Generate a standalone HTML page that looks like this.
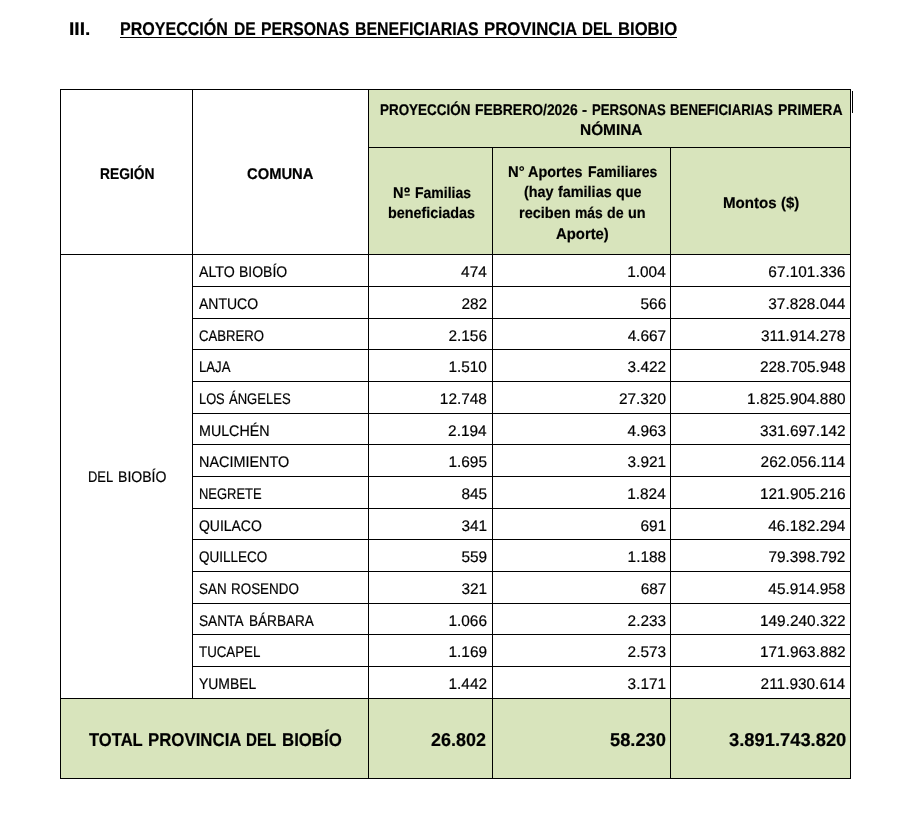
<!DOCTYPE html>
<html><head><meta charset="utf-8"><style>
html,body{margin:0;padding:0;background:#fff;width:911px;height:822px;overflow:hidden}
body{position:relative;font-family:"Liberation Sans",sans-serif;color:#000}
.t{position:absolute;white-space:nowrap;line-height:1;text-rendering:geometricPrecision}
.r{-webkit-text-stroke:0.2px #000}
.b{-webkit-text-stroke:0.2px #000}
#tx{position:absolute;left:0;top:0;width:911px;height:822px;filter:grayscale(1)}
.l{position:absolute;background:#000}
.g{position:absolute;background:#D8E4BC}

</style></head><body>
<div class="g" style="left:369px;top:90px;width:481px;height:164px"></div>
<div class="g" style="left:61px;top:699px;width:789px;height:79px"></div>
<div class="l" style="left:60px;top:89px;width:791px;height:1px"></div>
<div class="l" style="left:368px;top:147px;width:483px;height:1px"></div>
<div class="l" style="left:60px;top:254px;width:791px;height:1px"></div>
<div class="l" style="left:192px;top:286px;width:659px;height:1px"></div>
<div class="l" style="left:192px;top:318px;width:659px;height:1px"></div>
<div class="l" style="left:192px;top:349px;width:659px;height:1px"></div>
<div class="l" style="left:192px;top:381px;width:659px;height:1px"></div>
<div class="l" style="left:192px;top:413px;width:659px;height:1px"></div>
<div class="l" style="left:192px;top:444px;width:659px;height:1px"></div>
<div class="l" style="left:192px;top:476px;width:659px;height:1px"></div>
<div class="l" style="left:192px;top:508px;width:659px;height:1px"></div>
<div class="l" style="left:192px;top:539px;width:659px;height:1px"></div>
<div class="l" style="left:192px;top:571px;width:659px;height:1px"></div>
<div class="l" style="left:192px;top:603px;width:659px;height:1px"></div>
<div class="l" style="left:192px;top:634px;width:659px;height:1px"></div>
<div class="l" style="left:192px;top:666px;width:659px;height:1px"></div>
<div class="l" style="left:60px;top:698px;width:791px;height:1px"></div>
<div class="l" style="left:60px;top:778px;width:791px;height:1px"></div>
<div class="l" style="left:60px;top:89px;width:1px;height:690px"></div>
<div class="l" style="left:850px;top:89px;width:1px;height:690px"></div>
<div class="l" style="left:192px;top:89px;width:1px;height:610px"></div>
<div class="l" style="left:368px;top:89px;width:1px;height:690px"></div>
<div class="l" style="left:492px;top:147px;width:1px;height:632px"></div>
<div class="l" style="left:670px;top:147px;width:1px;height:632px"></div>
<div class="l" style="left:852px;top:91px;width:1px;height:22px"></div>
<svg class="sv" style="position:absolute;left:0;top:0" width="911" height="822"><ellipse cx="407.05" cy="189.95" rx="1.95" ry="1.85" fill="none" stroke="#000" stroke-width="1.6"/><rect x="404.7" y="194.3" width="5.1" height="1.3" fill="#000"/></svg>
<div class="l" style="left:120px;top:37px;width:557px;height:1px"></div>
<div id="tx">
<div class="t b" id="t1" style="left:68.75px;top:19.80px;font-size:18.5px;font-weight:bold;transform:scaleX(1.0395);transform-origin:0 0">III.</div>
<div class="t b" id="t2_0" style="left:120.16px;top:19.80px;font-size:18.5px;font-weight:bold;transform:scaleX(0.8674);transform-origin:0 0">PROYECCIÓN</div>
<div class="t b" id="t2_1" style="left:233.88px;top:19.80px;font-size:18.5px;font-weight:bold;transform:scaleX(0.8449);transform-origin:0 0">DE</div>
<div class="t b" id="t2_2" style="left:260.68px;top:19.80px;font-size:18.5px;font-weight:bold;transform:scaleX(0.8502);transform-origin:0 0">PERSONAS</div>
<div class="t b" id="t2_3" style="left:354.67px;top:19.80px;font-size:18.5px;font-weight:bold;transform:scaleX(0.8593);transform-origin:0 0">BENEFICIARIAS</div>
<div class="t b" id="t2_4" style="left:483.81px;top:19.80px;font-size:18.5px;font-weight:bold;transform:scaleX(0.9063);transform-origin:0 0">PROVINCIA</div>
<div class="t b" id="t2_5" style="left:582.11px;top:19.80px;font-size:18.5px;font-weight:bold;transform:scaleX(0.8198);transform-origin:0 0">DEL</div>
<div class="t b" id="t2_6" style="left:617.62px;top:19.80px;font-size:18.5px;font-weight:bold;transform:scaleX(0.8996);transform-origin:0 0">BIOBIO</div>
<div class="t b" id="h1" style="left:100.18px;top:166.70px;font-size:15.5px;font-weight:bold;transform:scaleX(0.8905);transform-origin:0 0">REGIÓN</div>
<div class="t b" id="h2" style="left:247.37px;top:166.90px;font-size:15.5px;font-weight:bold;transform:scaleX(0.9518);transform-origin:0 0">COMUNA</div>
<div class="t b" id="h3_0" style="left:380.01px;top:102.80px;font-size:15.5px;font-weight:bold;transform:scaleX(0.8671);transform-origin:0 0">PROYECCIÓN</div>
<div class="t b" id="h3_1" style="left:475.47px;top:102.80px;font-size:15.5px;font-weight:bold;transform:scaleX(0.8975);transform-origin:0 0">FEBRERO/2026</div>
<div class="t b" id="h3_2" style="left:582.44px;top:102.80px;font-size:15.5px;font-weight:bold;transform:scaleX(0.9808);transform-origin:0 0">-</div>
<div class="t b" id="h3_3" style="left:591.82px;top:102.80px;font-size:15.5px;font-weight:bold;transform:scaleX(0.8491);transform-origin:0 0">PERSONAS</div>
<div class="t b" id="h3_4" style="left:670.32px;top:102.80px;font-size:15.5px;font-weight:bold;transform:scaleX(0.8537);transform-origin:0 0">BENEFICIARIAS</div>
<div class="t b" id="h3_5" style="left:778.07px;top:102.80px;font-size:15.5px;font-weight:bold;transform:scaleX(0.9034);transform-origin:0 0">PRIMERA</div>
<div class="t b" id="h4" style="left:579.67px;top:122.80px;font-size:15.5px;font-weight:bold;transform:scaleX(0.9941);transform-origin:0 0">NÓMINA</div>
<div class="t b" id="h5_0" style="left:392.93px;top:185.60px;font-size:15.5px;font-weight:bold;transform:scaleX(0.9361);transform-origin:0 0">N</div>
<div class="t b" id="h5_1" style="left:415.17px;top:185.60px;font-size:15.5px;font-weight:bold;transform:scaleX(0.9025);transform-origin:0 0">Familias</div>
<div class="t b" id="h6" style="left:388.32px;top:205.60px;font-size:15.5px;font-weight:bold;transform:scaleX(0.9265);transform-origin:0 0">beneficiadas</div>
<div class="t b" id="h7_0" style="left:507.82px;top:164.60px;font-size:15.5px;font-weight:bold;transform:scaleX(0.9534);transform-origin:0 0">N°</div>
<div class="t b" id="h7_1" style="left:528.09px;top:164.60px;font-size:15.5px;font-weight:bold;transform:scaleX(0.9289);transform-origin:0 0">Aportes</div>
<div class="t b" id="h7_2" style="left:587.87px;top:164.60px;font-size:15.5px;font-weight:bold;transform:scaleX(0.9052);transform-origin:0 0">Familiares</div>
<div class="t b" id="h8_0" style="left:523.82px;top:185.30px;font-size:15.5px;font-weight:bold;transform:scaleX(0.9264);transform-origin:0 0">(hay</div>
<div class="t b" id="h8_1" style="left:557.79px;top:185.30px;font-size:15.5px;font-weight:bold;transform:scaleX(0.9294);transform-origin:0 0">familias</div>
<div class="t b" id="h8_2" style="left:615.59px;top:185.30px;font-size:15.5px;font-weight:bold;transform:scaleX(0.9265);transform-origin:0 0">que</div>
<div class="t b" id="h9_0" style="left:519.00px;top:205.60px;font-size:15.5px;font-weight:bold;transform:scaleX(0.9374);transform-origin:0 0">reciben</div>
<div class="t b" id="h9_1" style="left:574.85px;top:205.60px;font-size:15.5px;font-weight:bold;transform:scaleX(0.8958);transform-origin:0 0">más</div>
<div class="t b" id="h9_2" style="left:606.99px;top:205.60px;font-size:15.5px;font-weight:bold;transform:scaleX(0.9155);transform-origin:0 0">de</div>
<div class="t b" id="h9_3" style="left:628.12px;top:205.60px;font-size:15.5px;font-weight:bold;transform:scaleX(0.9329);transform-origin:0 0">un</div>
<div class="t b" id="h10" style="left:555.98px;top:226.50px;font-size:15.5px;font-weight:bold;transform:scaleX(0.9585);transform-origin:0 0">Aporte)</div>
<div class="t b" id="h11_0" style="left:722.89px;top:195.50px;font-size:15.5px;font-weight:bold;transform:scaleX(0.9757);transform-origin:0 0">Montos</div>
<div class="t b" id="h11_1" style="left:781.29px;top:195.50px;font-size:15.5px;font-weight:bold;transform:scaleX(0.9629);transform-origin:0 0">($)</div>
<div class="t r" id="reg_0" style="left:88.37px;top:470.40px;font-size:15.4px;font-weight:normal;transform:scaleX(0.8413);transform-origin:0 0">DEL</div>
<div class="t r" id="reg_1" style="left:117.68px;top:470.40px;font-size:15.4px;font-weight:normal;transform:scaleX(0.9133);transform-origin:0 0">BIOBÍO</div>
<div class="t r" id="n0_0" style="left:199.10px;top:264.70px;font-size:15.4px;font-weight:normal;transform:scaleX(0.9196);transform-origin:0 0">ALTO</div>
<div class="t r" id="n0_1" style="left:239.09px;top:264.70px;font-size:15.4px;font-weight:normal;transform:scaleX(0.9094);transform-origin:0 0">BIOBÍO</div>
<div class="t r" id="a0" style="right:424.21px;top:264.70px;font-size:15.4px;font-weight:normal;transform:scaleX(1.0000);transform-origin:100% 0">474</div>
<div class="t r" id="b0" style="right:245.28px;top:264.70px;font-size:15.4px;font-weight:normal;transform:scaleX(1.0000);transform-origin:100% 0">1.004</div>
<div class="t r" id="c0" style="right:65.64px;top:264.70px;font-size:15.4px;font-weight:normal;transform:scaleX(1.0000);transform-origin:100% 0">67.101.336</div>
<div class="t r" id="n1" style="left:199.10px;top:296.70px;font-size:15.4px;font-weight:normal;transform:scaleX(0.9090);transform-origin:0 0">ANTUCO</div>
<div class="t r" id="a1" style="right:423.82px;top:296.70px;font-size:15.4px;font-weight:normal;transform:scaleX(1.0000);transform-origin:100% 0">282</div>
<div class="t r" id="b1" style="right:244.78px;top:296.70px;font-size:15.4px;font-weight:normal;transform:scaleX(1.0000);transform-origin:100% 0">566</div>
<div class="t r" id="c1" style="right:65.66px;top:296.70px;font-size:15.4px;font-weight:normal;transform:scaleX(1.0000);transform-origin:100% 0">37.828.044</div>
<div class="t r" id="n2" style="left:199.10px;top:328.70px;font-size:15.4px;font-weight:normal;transform:scaleX(0.8537);transform-origin:0 0">CABRERO</div>
<div class="t r" id="a2" style="right:424.05px;top:328.70px;font-size:15.4px;font-weight:normal;transform:scaleX(1.0000);transform-origin:100% 0">2.156</div>
<div class="t r" id="b2" style="right:244.83px;top:328.70px;font-size:15.4px;font-weight:normal;transform:scaleX(1.0000);transform-origin:100% 0">4.667</div>
<div class="t r" id="c2" style="right:65.58px;top:328.70px;font-size:15.4px;font-weight:normal;transform:scaleX(1.0000);transform-origin:100% 0">311.914.278</div>
<div class="t r" id="n3" style="left:199.10px;top:359.70px;font-size:15.4px;font-weight:normal;transform:scaleX(0.8543);transform-origin:0 0">LAJA</div>
<div class="t r" id="a3" style="right:424.10px;top:359.70px;font-size:15.4px;font-weight:normal;transform:scaleX(1.0000);transform-origin:100% 0">1.510</div>
<div class="t r" id="b3" style="right:244.90px;top:359.70px;font-size:15.4px;font-weight:normal;transform:scaleX(1.0000);transform-origin:100% 0">3.422</div>
<div class="t r" id="c3" style="right:65.44px;top:359.70px;font-size:15.4px;font-weight:normal;transform:scaleX(1.0000);transform-origin:100% 0">228.705.948</div>
<div class="t r" id="n4_0" style="left:199.10px;top:391.70px;font-size:15.4px;font-weight:normal;transform:scaleX(0.8341);transform-origin:0 0">LOS</div>
<div class="t r" id="n4_1" style="left:228.74px;top:391.70px;font-size:15.4px;font-weight:normal;transform:scaleX(0.8470);transform-origin:0 0">ÁNGELES</div>
<div class="t r" id="a4" style="right:424.07px;top:391.70px;font-size:15.4px;font-weight:normal;transform:scaleX(1.0000);transform-origin:100% 0">12.748</div>
<div class="t r" id="b4" style="right:245.04px;top:391.70px;font-size:15.4px;font-weight:normal;transform:scaleX(1.0000);transform-origin:100% 0">27.320</div>
<div class="t r" id="c4" style="right:65.48px;top:391.70px;font-size:15.4px;font-weight:normal;transform:scaleX(1.0000);transform-origin:100% 0">1.825.904.880</div>
<div class="t r" id="n5" style="left:199.10px;top:423.70px;font-size:15.4px;font-weight:normal;transform:scaleX(0.9269);transform-origin:0 0">MULCHÉN</div>
<div class="t r" id="a5" style="right:424.38px;top:423.70px;font-size:15.4px;font-weight:normal;transform:scaleX(1.0000);transform-origin:100% 0">2.194</div>
<div class="t r" id="b5" style="right:244.90px;top:423.70px;font-size:15.4px;font-weight:normal;transform:scaleX(1.0000);transform-origin:100% 0">4.963</div>
<div class="t r" id="c5" style="right:65.42px;top:423.70px;font-size:15.4px;font-weight:normal;transform:scaleX(1.0000);transform-origin:100% 0">331.697.142</div>
<div class="t r" id="n6" style="left:199.10px;top:454.70px;font-size:15.4px;font-weight:normal;transform:scaleX(0.9356);transform-origin:0 0">NACIMIENTO</div>
<div class="t r" id="a6" style="right:424.05px;top:454.70px;font-size:15.4px;font-weight:normal;transform:scaleX(1.0000);transform-origin:100% 0">1.695</div>
<div class="t r" id="b6" style="right:244.92px;top:454.70px;font-size:15.4px;font-weight:normal;transform:scaleX(1.0000);transform-origin:100% 0">3.921</div>
<div class="t r" id="c6" style="right:65.94px;top:454.70px;font-size:15.4px;font-weight:normal;transform:scaleX(1.0000);transform-origin:100% 0">262.056.114</div>
<div class="t r" id="n7" style="left:199.10px;top:486.70px;font-size:15.4px;font-weight:normal;transform:scaleX(0.8406);transform-origin:0 0">NEGRETE</div>
<div class="t r" id="a7" style="right:423.88px;top:486.70px;font-size:15.4px;font-weight:normal;transform:scaleX(1.0000);transform-origin:100% 0">845</div>
<div class="t r" id="b7" style="right:245.28px;top:486.70px;font-size:15.4px;font-weight:normal;transform:scaleX(1.0000);transform-origin:100% 0">1.824</div>
<div class="t r" id="c7" style="right:65.47px;top:486.70px;font-size:15.4px;font-weight:normal;transform:scaleX(1.0000);transform-origin:100% 0">121.905.216</div>
<div class="t r" id="n8" style="left:199.10px;top:518.70px;font-size:15.4px;font-weight:normal;transform:scaleX(0.9059);transform-origin:0 0">QUILACO</div>
<div class="t r" id="a8" style="right:423.85px;top:518.70px;font-size:15.4px;font-weight:normal;transform:scaleX(1.0000);transform-origin:100% 0">341</div>
<div class="t r" id="b8" style="right:244.75px;top:518.70px;font-size:15.4px;font-weight:normal;transform:scaleX(1.0000);transform-origin:100% 0">691</div>
<div class="t r" id="c8" style="right:65.66px;top:518.70px;font-size:15.4px;font-weight:normal;transform:scaleX(1.0000);transform-origin:100% 0">46.182.294</div>
<div class="t r" id="n9" style="left:199.10px;top:549.70px;font-size:15.4px;font-weight:normal;transform:scaleX(0.8772);transform-origin:0 0">QUILLECO</div>
<div class="t r" id="a9" style="right:423.83px;top:549.70px;font-size:15.4px;font-weight:normal;transform:scaleX(1.0000);transform-origin:100% 0">559</div>
<div class="t r" id="b9" style="right:244.92px;top:549.70px;font-size:15.4px;font-weight:normal;transform:scaleX(1.0000);transform-origin:100% 0">1.188</div>
<div class="t r" id="c9" style="right:65.59px;top:549.70px;font-size:15.4px;font-weight:normal;transform:scaleX(1.0000);transform-origin:100% 0">79.398.792</div>
<div class="t r" id="n10_0" style="left:199.10px;top:581.70px;font-size:15.4px;font-weight:normal;transform:scaleX(0.8725);transform-origin:0 0">SAN</div>
<div class="t r" id="n10_1" style="left:231.03px;top:581.70px;font-size:15.4px;font-weight:normal;transform:scaleX(0.8728);transform-origin:0 0">ROSENDO</div>
<div class="t r" id="a10" style="right:423.85px;top:581.70px;font-size:15.4px;font-weight:normal;transform:scaleX(1.0000);transform-origin:100% 0">321</div>
<div class="t r" id="b10" style="right:244.65px;top:581.70px;font-size:15.4px;font-weight:normal;transform:scaleX(1.0000);transform-origin:100% 0">687</div>
<div class="t r" id="c10" style="right:65.62px;top:581.70px;font-size:15.4px;font-weight:normal;transform:scaleX(1.0000);transform-origin:100% 0">45.914.958</div>
<div class="t r" id="n11_0" style="left:199.10px;top:613.70px;font-size:15.4px;font-weight:normal;transform:scaleX(0.8883);transform-origin:0 0">SANTA</div>
<div class="t r" id="n11_1" style="left:248.82px;top:613.70px;font-size:15.4px;font-weight:normal;transform:scaleX(0.8817);transform-origin:0 0">BÁRBARA</div>
<div class="t r" id="a11" style="right:424.05px;top:613.70px;font-size:15.4px;font-weight:normal;transform:scaleX(1.0000);transform-origin:100% 0">1.066</div>
<div class="t r" id="b11" style="right:244.90px;top:613.70px;font-size:15.4px;font-weight:normal;transform:scaleX(1.0000);transform-origin:100% 0">2.233</div>
<div class="t r" id="c11" style="right:65.42px;top:613.70px;font-size:15.4px;font-weight:normal;transform:scaleX(1.0000);transform-origin:100% 0">149.240.322</div>
<div class="t r" id="n12" style="left:199.10px;top:644.70px;font-size:15.4px;font-weight:normal;transform:scaleX(0.8651);transform-origin:0 0">TUCAPEL</div>
<div class="t r" id="a12" style="right:424.00px;top:644.70px;font-size:15.4px;font-weight:normal;transform:scaleX(1.0000);transform-origin:100% 0">1.169</div>
<div class="t r" id="b12" style="right:244.90px;top:644.70px;font-size:15.4px;font-weight:normal;transform:scaleX(1.0000);transform-origin:100% 0">2.573</div>
<div class="t r" id="c12" style="right:65.42px;top:644.70px;font-size:15.4px;font-weight:normal;transform:scaleX(1.0000);transform-origin:100% 0">171.963.882</div>
<div class="t r" id="n13" style="left:199.10px;top:676.70px;font-size:15.4px;font-weight:normal;transform:scaleX(0.9057);transform-origin:0 0">YUMBEL</div>
<div class="t r" id="a13" style="right:424.00px;top:676.70px;font-size:15.4px;font-weight:normal;transform:scaleX(1.0000);transform-origin:100% 0">1.442</div>
<div class="t r" id="b13" style="right:244.92px;top:676.70px;font-size:15.4px;font-weight:normal;transform:scaleX(1.0000);transform-origin:100% 0">3.171</div>
<div class="t r" id="c13" style="right:65.94px;top:676.70px;font-size:15.4px;font-weight:normal;transform:scaleX(1.0000);transform-origin:100% 0">211.930.614</div>
<div class="t b" id="tt_0" style="left:89.34px;top:730.80px;font-size:18.6px;font-weight:bold;transform:scaleX(0.8921);transform-origin:0 0">TOTAL</div>
<div class="t b" id="tt_1" style="left:147.90px;top:730.80px;font-size:18.6px;font-weight:bold;transform:scaleX(0.9046);transform-origin:0 0">PROVINCIA</div>
<div class="t b" id="tt_2" style="left:246.41px;top:730.80px;font-size:18.6px;font-weight:bold;transform:scaleX(0.8134);transform-origin:0 0">DEL</div>
<div class="t b" id="tt_3" style="left:281.91px;top:730.80px;font-size:18.6px;font-weight:bold;transform:scaleX(0.9036);transform-origin:0 0">BIOBÍO</div>
<div class="t b" id="ta" style="left:431.40px;top:730.70px;font-size:18.6px;font-weight:bold;transform:scaleX(0.9649);transform-origin:0 0">26.802</div>
<div class="t b" id="tb" style="left:609.83px;top:730.70px;font-size:18.6px;font-weight:bold;transform:scaleX(0.9837);transform-origin:0 0">58.230</div>
<div class="t b" id="tc" style="left:729.41px;top:730.70px;font-size:18.6px;font-weight:bold;transform:scaleX(0.9865);transform-origin:0 0">3.891.743.820</div>
</div>
</body></html>
